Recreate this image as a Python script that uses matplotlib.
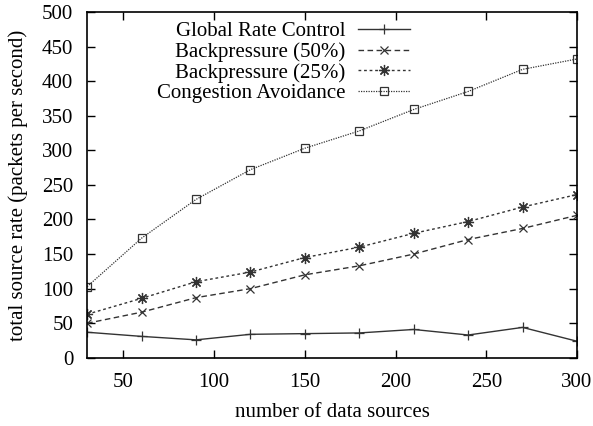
import matplotlib.pyplot as plt

plt.rcParams['font.family'] = ['Liberation Serif', 'DejaVu Serif']

sources = [30, 60, 90, 120, 150, 180, 210, 240, 270, 300]
global_rate = [37, 31, 26, 34, 35, 36, 41, 33, 44, 24]
backpressure_50 = [50, 66, 87, 100, 120, 133, 150, 171, 187, 206]
backpressure_25 = [63, 86, 110, 124, 145, 160, 180, 197, 218, 236]
congestion_avoid = [103, 173, 229, 272, 303, 328, 359, 385, 417, 432]

fig = plt.figure(figsize=(5.93, 4.26), dpi=100)
ax = fig.add_axes([0.147, 0.160, 0.826, 0.812])

ax.plot(sources, global_rate, color='#333333', lw=1.0, ls='-',
        marker='+', ms=7, mew=0.9, label='Global Rate Control')
ax.plot(sources, backpressure_50, color='#333333', lw=1.0, ls=(0, (4, 2.5)),
        marker='x', ms=6, mew=0.9, label='Backpressure (50%)')
ax.plot(sources, backpressure_25, color='#333333', lw=1.0, ls=(0, (2, 2)),
        marker=(8, 2, 0), ms=8, mew=0.9, label='Backpressure (25%)')
ax.plot(sources, congestion_avoid, color='#333333', lw=0.9, ls=(0, (1, 1)),
        marker='s', ms=6, mew=0.9, mfc='none', label='Congestion Avoidance')

ax.set_xlim(30, 300)
ax.set_ylim(0, 500)
ax.set_xticks(range(50, 301, 50))
ax.set_yticks(range(0, 501, 50))
ax.tick_params(direction='in', top=True, right=True, length=6, width=1,
               labelsize=15)
ax.tick_params(axis='x', pad=11)
ax.tick_params(axis='y', pad=10)
for s in ax.spines.values():
    s.set_linewidth(1.2)

ax.set_xlabel('number of data sources', fontsize=15, labelpad=8)
ax.set_ylabel('total source rate (packets per second)', fontsize=15, labelpad=10)

leg = ax.legend(loc='upper right', bbox_to_anchor=(0.659, 0.972), frameon=False,
                markerfirst=False, fontsize=15, handlelength=2.5,
                labelspacing=0.05, borderpad=0.0, borderaxespad=0.0,
                handletextpad=0.6)

plt.savefig('out.png', dpi=100)
